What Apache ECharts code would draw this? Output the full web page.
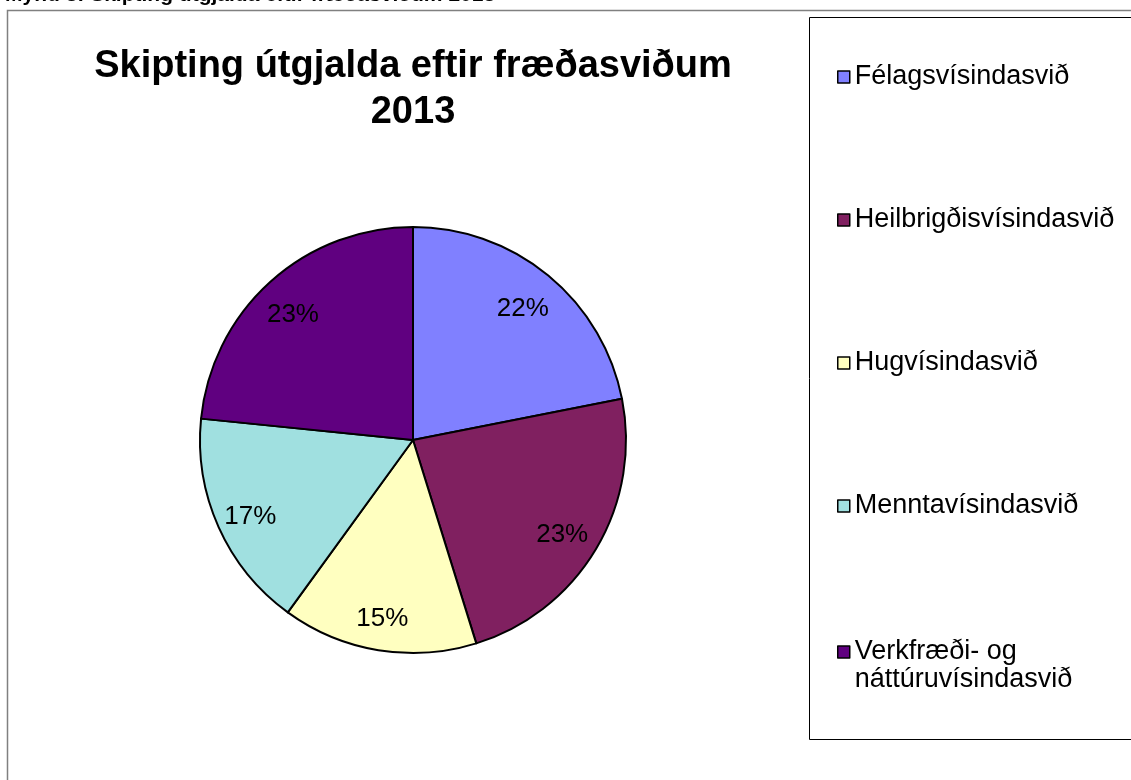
<!DOCTYPE html>
<html>
<head>
<meta charset="utf-8">
<script src="https://cdn.jsdelivr.net/npm/echarts@6/dist/echarts.min.js"></script>
<style>
  html, body { margin: 0; padding: 0; background: #fff; }
  #chart { width: 1131px; height: 780px; }
</style>
</head>
<body>
<div id="chart"></div>
<script>
// gögn lesin af myndinni (hlutfall af heild)
var svid = ['Félagsvísindasvið', 'Heilbrigðisvísindasvið', 'Hugvísindasvið', 'Menntavísindasvið', 'Verkfræði- og\nnáttúruvísindasvið'];
var hlutfall = [21.9, 23.3, 14.8, 16.6, 23.4];
var litir = ['#8080FF', '#802060', '#FFFFC0', '#A0E0E0', '#600080'];

var FONT = '"Liberation Sans", Arial, sans-serif';

var chart = echarts.init(document.getElementById('chart'));

// sneiðar
var gogn = [];
for (var i = 0; i < svid.length; i++) {
  gogn.push({ name: svid[i], value: hlutfall[i], itemStyle: { color: litir[i] } });
}
// sömu gögn, ósýnilegur hringur fyrir prósentumerkin
var merki = [];
for (var i = 0; i < svid.length; i++) {
  merki.push({ name: svid[i], value: hlutfall[i] });
}

var skyringStill = {
  orient: 'vertical',
  left: 837,
  padding: 0,
  itemWidth: 12,
  itemHeight: 12,
  itemGap: 115,
  icon: 'rect',
  selectedMode: false,
  textStyle: { fontFamily: FONT, fontSize: 27, color: '#000', lineHeight: 28 },
  itemStyle: { borderColor: '#000', borderWidth: 1.5 }
};

var option = {
  animation: false,
  graphic: [
    { type: 'text', left: 5, top: -15, silent: true,
      style: { text: 'Mynd 3: Skipting útgjalda eftir fræðasviðum 2013', font: 'bold 21px ' + FONT, fill: '#000' } },
    { type: 'rect', silent: true, shape: { x: 7.5, y: 10.5, width: 1300, height: 900 },
      style: { fill: 'none', stroke: '#808080', lineWidth: 1.5 } },
    { type: 'rect', silent: true, shape: { x: 809.5, y: 17.5, width: 400, height: 722 },
      style: { fill: 'none', stroke: '#000', lineWidth: 1 } },
    { type: 'text', silent: true, x: 413, y: 44,
      style: { text: 'Skipting útgjalda eftir fræðasviðum\n2013', font: 'bold 38px ' + FONT,
               lineHeight: 46, align: 'center', verticalAlign: 'top', fill: '#000' } }
  ],
  legend: [
    Object.assign({}, skyringStill, { top: 63, data: svid.slice(0, 4) }),
    // síðasta skýringin er tvær línur: tákn á fyrstu línu
    Object.assign({}, skyringStill, {
      top: 610,
      data: svid.slice(4),
      formatter: function (name) { return '\n' + name; }
    })
  ],
  series: [
    {
      type: 'pie',
      center: [413, 440],
      radius: [0, 213],
      startAngle: 90,
      clockwise: true,
      data: gogn,
      label: { show: false },
      labelLine: { show: false },
      itemStyle: { borderColor: '#000', borderWidth: 2 },
      emphasis: { disabled: true }
    },
    {
      type: 'pie',
      center: [413, 440],
      radius: [148, 198],
      startAngle: 90,
      clockwise: true,
      silent: true,
      percentPrecision: 0,
      data: merki,
      itemStyle: { color: 'rgba(0,0,0,0)', borderWidth: 0 },
      label: { show: true, position: 'inside', formatter: '{d}%', offset: [-2, 5],
               fontFamily: FONT, fontSize: 26, color: '#000' },
      labelLine: { show: false },
      emphasis: { disabled: true }
    }
  ]
};

chart.setOption(option);
</script>
</body>
</html>
